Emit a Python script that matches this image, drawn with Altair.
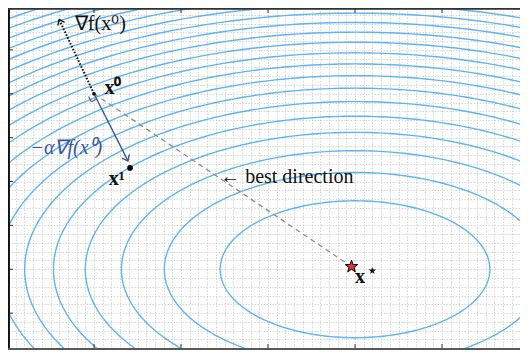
import altair as alt
import numpy as np
import pandas as pd

W, H = 512, 341
PX_PER_X, PX_PER_Y = 87.0, 43.875
XMIN = 1.0 / PX_PER_X
XMAX = XMIN + W / PX_PER_X
YMAX = 8.0 - 2.0 / PX_PER_Y
YMIN = YMAX - H / PX_PER_Y

# contour levels (ellipse index k: f = k) and level-1 ellipse geometry
levels = list(range(1, 31))
center = [4.0, 2.0]
semi_axes = [1.55, 1.56]

# key points of the illustration (data units)
x0 = [1.0, 6.0]
x1 = [1.414, 4.31]
grad_tip = [0.6, 7.69]
step_tip = [1.39, 4.47]
xstar = [3.96, 2.06]

# axes
x_ticks = [1, 2, 3, 4, 5]
y_ticks = [1, 2, 3, 4, 5, 6, 7]
x_minor = [round(i * 0.1, 2) for i in range(1, 60)]
y_minor = [round(i * 0.2, 2) for i in range(1, 40)]

# labels
bold_text = ["x⁰", "x¹", "x"]
bold_x = [1.12, 1.17, 4.0]
bold_y = [6.14, 4.06, 1.82]
plain_text = ["∇f(x⁰)", "← best direction", "⋆"]
plain_x = [0.78, 2.45, 4.13]
plain_y = [7.60, 4.10, 1.97]
blue_text = ["−α∇f(x⁰)"]
blue_x = [0.27]
blue_y = [4.76]

FONT = "Liberation Serif"
BLUE = "#3558a6"
CONTOUR = "#5db4f5"

xs = alt.Scale(domain=[XMIN, XMAX], nice=False, zero=False)
ys = alt.Scale(domain=[YMIN, YMAX], nice=False, zero=False)
x_axis = alt.Axis(values=x_minor, grid=True, labels=False, ticks=False, domain=False,
                  title=None, gridDash=[1.5, 1.5], gridColor="#cccccc", gridWidth=0.8)
y_axis = alt.Axis(values=y_minor, grid=True, labels=False, ticks=False, domain=False,
                  title=None, gridDash=[1.5, 1.5], gridColor="#cccccc", gridWidth=0.8)


def X(f="x"):
    return alt.X(f"{f}:Q", scale=xs, axis=x_axis)


def Y(f="y"):
    return alt.Y(f"{f}:Q", scale=ys, axis=y_axis)


# contour ellipses
t = np.linspace(0, 2 * np.pi, 361)
rows = []
for k in levels:
    r = np.sqrt(k)
    for i, tt in enumerate(t):
        rows.append({"k": k, "i": i,
                     "x": center[0] + semi_axes[0] * r * np.cos(tt),
                     "y": center[1] + semi_axes[1] * r * np.sin(tt)})
cont_df = pd.DataFrame(rows)
contours = alt.Chart(cont_df).mark_line(clip=True, color=CONTOUR, strokeWidth=1.4).encode(
    x=X(), y=Y(), detail="k:N", order="i:Q")

sx, sy = PX_PER_X, PX_PER_Y


def seg(p, q):
    return pd.DataFrame({"x": [p[0], q[0]], "y": [p[1], q[1]], "o": [0, 1]})


def angle(p, q):
    dx = (q[0] - p[0]) * sx
    dy = -(q[1] - p[1]) * sy
    return float(np.degrees(np.arctan2(dy, dx)) % 360)


best = alt.Chart(seg(x0, xstar)).mark_line(color="#8a8a8a", strokeDash=[5, 4], strokeWidth=1.3).encode(
    x=X(), y=Y(), order="o:Q")
grad = alt.Chart(seg(x0, grad_tip)).mark_line(color="#111111", strokeDash=[1.6, 1.6], strokeWidth=2).encode(
    x=X(), y=Y(), order="o:Q")
step = alt.Chart(seg(x0, step_tip)).mark_line(color=BLUE, strokeWidth=1.4).encode(
    x=X(), y=Y(), order="o:Q")

chevron = "M-1,-0.8L0,0L-1,0.8"
grad_head = alt.Chart(pd.DataFrame({"x": [grad_tip[0]], "y": [grad_tip[1]]})).mark_point(
    shape=chevron, filled=False, color="#111111", size=90, strokeWidth=1.4,
    angle=angle(x0, grad_tip), opacity=1).encode(x=X(), y=Y())
step_head = alt.Chart(pd.DataFrame({"x": [step_tip[0]], "y": [step_tip[1]]})).mark_point(
    shape=chevron, filled=False, color=BLUE, size=110, strokeWidth=1.4,
    angle=angle(x0, step_tip), opacity=1).encode(x=X(), y=Y())

# right-angle marker at x0
u = np.array([(step_tip[0] - x0[0]) * sx, -(step_tip[1] - x0[1]) * sy])
u = u / np.linalg.norm(u)
v = np.array([-u[1], u[0]])
s = 6.0
p0 = np.array([x0[0] * sx, -x0[1] * sy])
pts = [p0 + u * s, p0 + u * s + v * s, p0 + v * s]
ra_df = pd.DataFrame({"x": [p[0] / sx for p in pts], "y": [-p[1] / sy for p in pts], "o": [0, 1, 2]})
right_angle = alt.Chart(ra_df).mark_line(color="#222222", strokeWidth=0.9).encode(
    x=X(), y=Y(), order="o:Q")

p0_pt = alt.Chart(pd.DataFrame({"x": [x0[0]], "y": [x0[1]]})).mark_point(
    filled=True, color="#111111", size=14, opacity=1).encode(x=X(), y=Y())
p1_pt = alt.Chart(pd.DataFrame({"x": [x1[0]], "y": [x1[1]]})).mark_point(
    filled=True, color="#000000", size=32, opacity=1).encode(x=X(), y=Y())
star_path = ("M0,-1L0.235,-0.324L0.951,-0.309L0.38,0.124L0.588,0.809L0,0.4"
             "L-0.588,0.809L-0.38,0.124L-0.951,-0.309L-0.235,-0.324Z")
star = alt.Chart(pd.DataFrame({"x": [xstar[0]], "y": [xstar[1]]})).mark_point(
    shape=star_path, filled=True, fill="#e8362d", stroke="#000000", strokeWidth=1,
    size=170, opacity=1).encode(x=X(), y=Y())

bold_lbl = alt.Chart(pd.DataFrame({"x": bold_x, "y": bold_y, "t": bold_text})).mark_text(
    font=FONT, fontSize=20, fontWeight="bold", align="left", baseline="middle", color="#111111").encode(
    x=X(), y=Y(), text="t:N")
plain_lbl = alt.Chart(pd.DataFrame({"x": plain_x, "y": plain_y, "t": plain_text})).mark_text(
    font=FONT, fontSize=20, align="left", baseline="middle", color="#111111").encode(
    x=X(), y=Y(), text="t:N")
blue_lbl = alt.Chart(pd.DataFrame({"x": blue_x, "y": blue_y, "t": blue_text})).mark_text(
    font=FONT, fontSize=20, fontStyle="italic", align="left", baseline="middle", color=BLUE).encode(
    x=X(), y=Y(), text="t:N")

# inward ticks
xt_df = pd.DataFrame({"x": x_ticks})
yt_df = pd.DataFrame({"y": y_ticks})
tick_bottom = alt.Chart(xt_df).mark_rule(color="#333333", strokeWidth=1).encode(
    x=X(), y=alt.value(H), y2=alt.value(H - 5))
tick_top = alt.Chart(xt_df).mark_rule(color="#333333", strokeWidth=1).encode(
    x=X(), y=alt.value(0), y2=alt.value(5))
tick_left = alt.Chart(yt_df).mark_rule(color="#333333", strokeWidth=1).encode(
    y=Y(), x=alt.value(0), x2=alt.value(5))

# frame (left, top, bottom; right edge lies outside the picture)
frame_left = alt.Chart(xt_df).mark_rule(color="#111111", strokeWidth=1.4).encode(
    x=alt.value(0.7), y=alt.value(0), y2=alt.value(H))
frame_top = alt.Chart(xt_df).mark_rule(color="#333333", strokeWidth=1.2).encode(
    x=alt.value(0), x2=alt.value(W), y=alt.value(0.6))
frame_bottom = alt.Chart(xt_df).mark_rule(color="#555555", strokeWidth=1.2).encode(
    x=alt.value(0), x2=alt.value(W), y=alt.value(H))

chart = alt.layer(
    contours, best, grad, step, grad_head, step_head, right_angle,
    p0_pt, p1_pt, star, bold_lbl, plain_lbl, blue_lbl,
    tick_bottom, tick_top, tick_left, frame_left, frame_top, frame_bottom,
).properties(
    width=W, height=H, background="white",
    padding={"left": 0, "top": 0, "right": 0, "bottom": 1},
    autosize=alt.AutoSizeParams(type="none"),
).configure_view(stroke=None)

chart.save("out.html", embed_options={"renderer": "svg", "actions": False})
